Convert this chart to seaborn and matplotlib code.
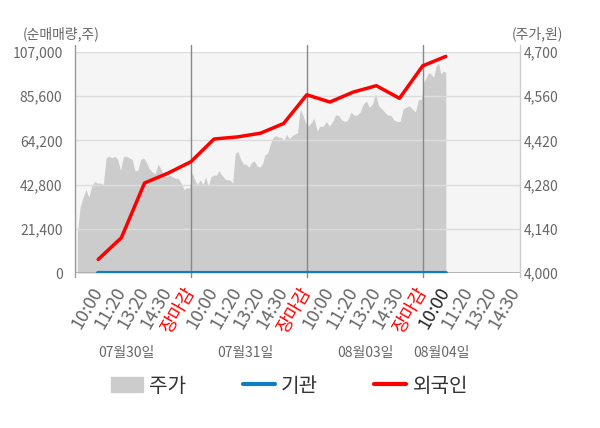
import numpy as np
import matplotlib
matplotlib.use("Agg")
import matplotlib.pyplot as plt
import matplotlib.transforms as mtrans
from matplotlib.patches import Patch
from matplotlib.lines import Line2D
from matplotlib.ticker import FixedLocator
import seaborn as sns

sns.set_style("white")
plt.rcParams['font.family'] = ['Noto Sans CJK KR', 'DejaVu Sans']

# x tick labels (one per tick position 1..19)
tick_labels = ['10:00', '11:20', '13:20', '14:30', '장마감',
               '10:00', '11:20', '13:20', '14:30', '장마감',
               '10:00', '11:20', '13:20', '14:30', '장마감',
               '10:00', '11:20', '13:20', '14:30']
day_labels = ['07월30일', '07월31일', '08월03일', '08월04일']

# intraday price (주가, 원) per day
price_day1 = [4125, 4210, 4240, 4265, 4240, 4275, 4290, 4285, 4285, 4280,
              4365, 4370, 4365, 4370, 4360, 4325, 4370, 4370, 4365, 4360,
              4325, 4325, 4360, 4365, 4350, 4330, 4320, 4315, 4345, 4330,
              4310, 4305, 4310, 4305, 4300, 4300, 4285, 4265, 4270, 4270]
price_day2 = [4320, 4295, 4280, 4295, 4280, 4305, 4275, 4305, 4310, 4310,
              4325, 4310, 4300, 4295, 4295, 4285, 4380, 4385, 4360, 4345,
              4345, 4335, 4350, 4355, 4340, 4335, 4345, 4375, 4380, 4410,
              4430, 4435, 4430, 4430, 4420, 4440, 4425, 4435, 4440, 4445,
              4520, 4500, 4475]
price_day3 = [4465, 4475, 4490, 4450, 4465, 4465, 4480, 4465, 4480, 4500,
              4500, 4485, 4480, 4485, 4510, 4500, 4500, 4510, 4535, 4545,
              4525, 4535, 4570, 4530, 4520, 4510, 4500, 4500, 4485, 4480,
              4480, 4520, 4525, 4530, 4520, 4510, 4550, 4550]
price_day4 = [4605, 4620, 4635, 4630, 4620, 4655, 4665, 4630, 4640, 4635]

# cumulative net purchase (순매매량, 주) at each tick 1..16
foreign = [6600, 17100, 43600, 48300, 53900, 64900, 65900, 67700,
           72400, 86300, 82800, 87600, 90700, 84600, 100300, 104900]
institution = [200, 200, 200, 200, 200, 200, 200, 200,
               200, 200, 200, 200, 200, 200, 200, 200]

# position of each day's intraday series on the tick scale
x_price = np.concatenate([
    np.linspace(0.1, 4.95, len(price_day1)),
    np.linspace(5.05, 9.95, len(price_day2)),
    np.linspace(10.05, 14.95, len(price_day3)),
    np.linspace(15.05, 16.0, len(price_day4)),
])
price = np.array(price_day1 + price_day2 + price_day3 + price_day4)
x_flow = np.arange(1, len(foreign) + 1)

fig = plt.figure(figsize=(6, 4.28), dpi=100)
ax = fig.add_axes([0.125, 0.362, 0.7417, 0.5164])
ax2 = ax.twinx()

# price area on the host axis (right scale)
ax.fill_between(x_price, price, 4000, color='#cccccc', lw=0, zorder=1)
ax.set_xlim(0, 19.2)
ax.set_ylim(4000, 4700)
ax.set_facecolor('#f5f5f5')
ax.set_yticks([4000, 4140, 4280, 4420, 4560, 4700])
ax.set_yticklabels([f'{v:,}' for v in [4000, 4140, 4280, 4420, 4560, 4700]])
ax.yaxis.tick_right()
ax.grid(axis='y', color='#dddddd', lw=1)
ax.grid(axis='x', visible=False)
ax.set_axisbelow(False)

# net purchase lines on the twin (left scale)
sns.lineplot(x=x_flow, y=institution, ax=ax2, color='#0f7dc4', lw=3)
sns.lineplot(x=x_flow, y=foreign, ax=ax2, color='#ff0000', lw=2.5)
ax2.set_ylim(0, 107000)
vol_ticks = [0, 21400, 42800, 64200, 85600, 107000]
ax2.set_yticks(vol_ticks)
ax2.set_yticklabels([f'{v:,}' for v in vol_ticks])
ax2.yaxis.tick_left()
ax2.set_xlabel('')
ax2.set_ylabel('')

for a in (ax, ax2):
    for s in a.spines.values():
        s.set_visible(False)

ax.tick_params(axis='y', length=0, pad=3, labelsize=10, labelcolor='#666666')
ax2.tick_params(axis='y', length=0, pad=9, labelsize=10, labelcolor='#666666')

# x ticks
ax.set_xticks(range(1, 20))
ax.set_xticklabels(tick_labels, rotation=60, ha='right', va='center',
                   rotation_mode='anchor')
ax.tick_params(axis='x', which='major', length=0, pad=11, labelsize=13)
for i, t in enumerate(ax.get_xticklabels()):
    if tick_labels[i] == '장마감':
        t.set_color('#ff0000')
    elif i == 15:
        t.set_color('#222222')
    else:
        t.set_color('#666666')
ax.xaxis.set_minor_locator(FixedLocator([0, 5, 10, 15, 19.2]))
ax.tick_params(axis='x', which='minor', length=4, color='#999999', width=1)

# frame lines and day separators (extend above the plot area)
xt = ax.get_xaxis_transform()
ax.plot([0, 0], [-0.02, 1.032], transform=xt, color='#999999', lw=1,
        clip_on=False, zorder=4)
ax.plot([19.2, 19.2], [-0.02, 1.032], transform=xt, color='#cccccc', lw=1,
        clip_on=False, zorder=4)
for d in (5, 10, 15):
    ax.plot([d, d], [-0.02, 1.032], transform=xt, color='#888888', lw=1,
            clip_on=False, zorder=3)
ax.axhline(4000, color='#aaaaaa', lw=1.2, zorder=3)

# day labels below the ticks
bt = mtrans.blended_transform_factory(ax.transData, fig.transFigure)
for pos, lab in zip([2.2, 7.37, 12.54, 15.8], day_labels):
    ax.text(pos, 0.175, lab, transform=bt, ha='center', va='center',
            fontsize=10, color='#666666')

fig.text(61 / 600, 1 - 34 / 428, '(순매매량,주)', ha='center', va='center',
         fontsize=10, color='#666666')
fig.text(563 / 600, 1 - 34 / 428, '(주가,원)', ha='right', va='center',
         fontsize=10, color='#666666')

handles = [Patch(color='#cccccc'),
           Line2D([], [], color='#0f7dc4', lw=3),
           Line2D([], [], color='#ff0000', lw=3)]
leg = fig.legend(handles, ['주가', '기관', '외국인'], loc='center',
                 bbox_to_anchor=(0.4825, 0.098), ncol=3, frameon=False,
                 fontsize=14.5, handlelength=1.6, handleheight=0.75,
                 handletextpad=0.3, columnspacing=2.8)
for t in leg.get_texts():
    t.set_color('#333333')

fig.savefig('out.png', dpi=100)
